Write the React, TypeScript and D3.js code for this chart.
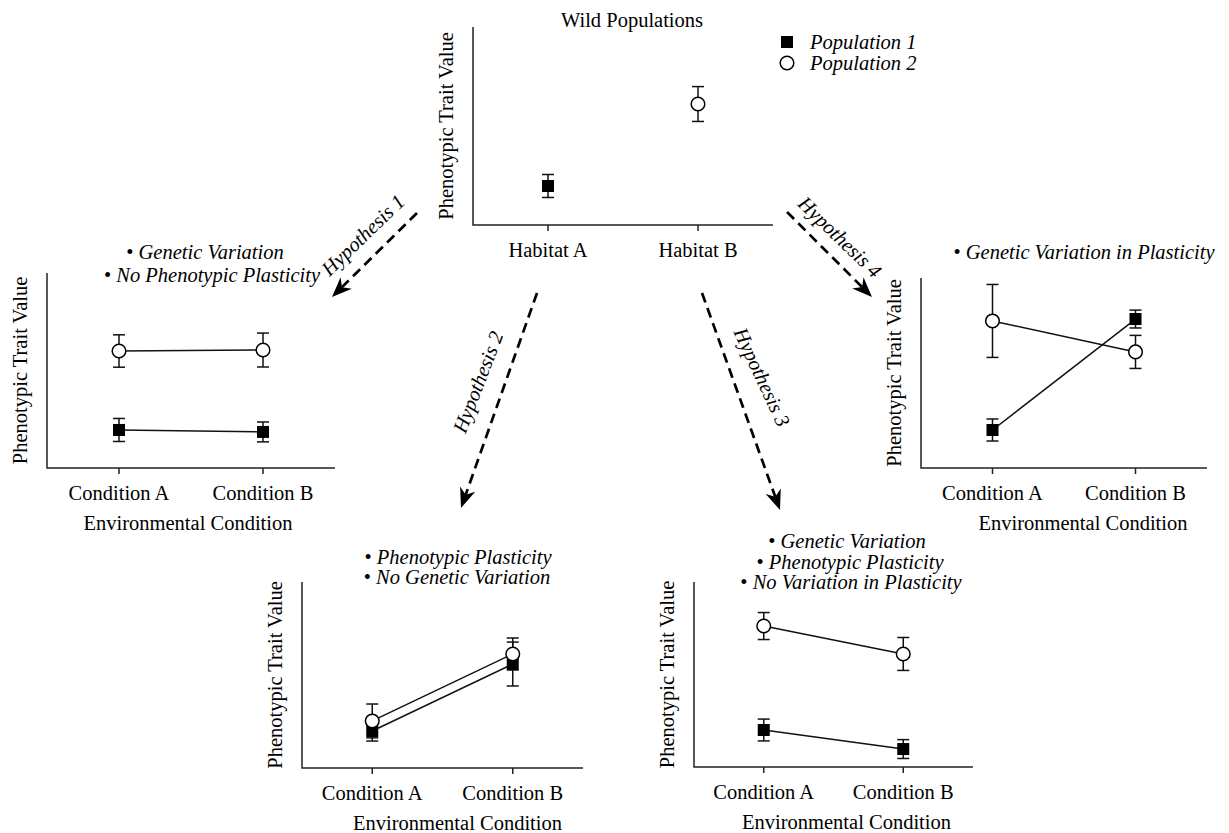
import React from "react";
import * as d3 from "d3";

const conditions = ["Condition A", "Condition B"];
const habitats = ["Habitat A", "Habitat B"];
const seriesNames = ["Population 1", "Population 2"];

// trait values on a 0-100 scale, err = half-width of the bar
const wildPop1 = [19.7, null];
const wildPop1Err = [5.8, 0];
const wildPop2 = [null, 61.1];
const wildPop2Err = [0, 8.8];

const h1Pop1 = [19.5, 18.5];
const h1Pop1Err = [5.9, 5.1];
const h1Pop2 = [60, 60.5];
const h1Pop2Err = [8.3, 8.7];

const h2Pop1 = [19.9, 55.9];
const h2Pop1Err = [5.4, 11.8];
const h2Pop2 = [25.3, 61.3];
const h2Pop2Err = [9.1, 8.6];

const h3Pop1 = [20, 9.7];
const h3Pop1Err = [5.9, 5.1];
const h3Pop2 = [76.2, 61.1];
const h3Pop2Err = [7.3, 8.9];

const h4Pop1 = [20, 78.4];
const h4Pop1Err = [5.8, 4.7];
const h4Pop2 = [77.4, 61.1];
const h4Pop2Err = [19.2, 8.7];

const FONT = "'Liberation Serif', 'Times New Roman', serif";
const FS = 20.5;

type Series = { values: (number | null)[]; err: number[]; filled: boolean };

type PanelProps = {
  x0: number;
  x1: number;
  yTop: number;
  yBottom: number;
  cats: string[];
  series: Series[];
  connect: boolean;
  xTitle?: string;
  xTitleDx?: number;
  titles?: { text: string; x: number; y: number }[];
};

const Panel = ({ x0, x1, yTop, yBottom, cats, series, connect, xTitle, xTitleDx = 0, titles = [] }: PanelProps) => {
  const x = d3.scalePoint<string>().domain(cats).range([x0, x1]).padding(0.5);
  const y = d3.scaleLinear().domain([0, 100]).range([yBottom, yTop]);
  const line = d3
    .line<number | null>()
    .defined((d) => d != null)
    .x((_, i) => x(cats[i]) as number)
    .y((d) => y(d as number));

  return (
    <g>
      {titles.map((t, i) => (
        <text key={i} x={t.x} y={t.y} textAnchor="middle" dominantBaseline="central" fontStyle="italic" fontSize={FS}>
          <tspan fontStyle="normal">• </tspan>
          {t.text}
        </text>
      ))}
      <path d={`M${x0},${yTop}V${yBottom}H${x1}`} fill="none" stroke="#222" strokeWidth={1.5} />
      {cats.map((c) => (
        <g key={c}>
          <line x1={x(c)} x2={x(c)} y1={yBottom} y2={yBottom + 6} stroke="#222" strokeWidth={1.5} />
          <text x={x(c)} y={yBottom + 25} textAnchor="middle" dominantBaseline="central" fontSize={FS}>
            {c}
          </text>
        </g>
      ))}
      <text
        transform={`translate(${x0 - 27},${(yTop + yBottom) / 2}) rotate(-90)`}
        textAnchor="middle"
        dominantBaseline="central"
        fontSize={FS}
      >
        Phenotypic Trait Value
      </text>
      {xTitle && (
        <text x={(x0 + x1) / 2 + xTitleDx} y={yBottom + 55} textAnchor="middle" dominantBaseline="central" fontSize={FS}>
          {xTitle}
        </text>
      )}
      {series.map((s, si) => (
        <g key={si}>
          {s.values.map((v, i) =>
            v == null ? null : (
              <g key={i} stroke="#111" strokeWidth={1.5}>
                <line x1={x(cats[i])} x2={x(cats[i])} y1={y(v - s.err[i])} y2={y(v + s.err[i])} />
                <line x1={(x(cats[i]) as number) - 6} x2={(x(cats[i]) as number) + 6} y1={y(v + s.err[i])} y2={y(v + s.err[i])} />
                <line x1={(x(cats[i]) as number) - 6} x2={(x(cats[i]) as number) + 6} y1={y(v - s.err[i])} y2={y(v - s.err[i])} />
              </g>
            )
          )}
        </g>
      ))}
      {series.map((s, si) => (
        <g key={si}>
          {connect && <path d={line(s.values) || ""} fill="none" stroke="#111" strokeWidth={1.5} />}
          {s.values.map((v, i) =>
            v == null ? null : s.filled ? (
              <rect key={i} x={(x(cats[i]) as number) - 6} y={y(v) - 6} width={12} height={12} fill="#000" />
            ) : (
              <circle key={i} cx={x(cats[i])} cy={y(v)} r={6.8} fill="#fff" stroke="#000" strokeWidth={1.5} />
            )
          )}
        </g>
      ))}
    </g>
  );
};

const arrows = [
  { label: "Hypothesis 1", from: [417, 213], to: [332, 297], lx: 363, ly: 235, rot: -44 },
  { label: "Hypothesis 2", from: [537, 293], to: [461, 508], lx: 478, ly: 382, rot: -69 },
  { label: "Hypothesis 3", from: [702, 293], to: [780, 510], lx: 762, ly: 377, rot: 65 },
  { label: "Hypothesis 4", from: [787, 212], to: [872, 297], lx: 840, ly: 237, rot: 44 },
];

const Arrow = ({ from, to }: { from: number[]; to: number[] }) => {
  const dx = to[0] - from[0];
  const dy = to[1] - from[1];
  const len = Math.hypot(dx, dy);
  const ux = dx / len;
  const uy = dy / len;
  const nx = -uy;
  const ny = ux;
  const L = 20;
  const W = 8;
  const notch = 14;
  const bx = to[0] - ux * L;
  const by = to[1] - uy * L;
  const head = [
    [to[0], to[1]],
    [bx + nx * W, by + ny * W],
    [to[0] - ux * notch, to[1] - uy * notch],
    [bx - nx * W, by - ny * W],
  ];
  return (
    <g>
      <line
        x1={from[0]}
        y1={from[1]}
        x2={to[0] - ux * notch}
        y2={to[1] - uy * notch}
        stroke="#000"
        strokeWidth={2.7}
        strokeDasharray="10 6"
      />
      <polygon points={head.map((p) => p.join(",")).join(" ")} fill="#000" />
    </g>
  );
};

export default function App() {
  return (
    <svg
      width={1229}
      height={833}
      style={{ position: "absolute", left: 0, top: 0, background: "#fff" }}
      fontFamily={FONT}
      fill="#000"
    >
      <rect width={1229} height={833} fill="#fff" />
      {/* wild populations */}
      <text x={632} y={20} textAnchor="middle" dominantBaseline="central" fontSize={FS}>
        Wild Populations
      </text>
      <Panel
        x0={473}
        x1={773}
        yTop={27}
        yBottom={225}
        cats={habitats}
        connect={false}
        series={[
          { values: wildPop1, err: wildPop1Err, filled: true },
          { values: wildPop2, err: wildPop2Err, filled: false },
        ]}
      />
      <rect x={781} y={36} width={12} height={12} fill="#000" />
      <circle cx={787} cy={63} r={6.8} fill="#fff" stroke="#000" strokeWidth={1.5} />
      {seriesNames.map((n, i) => (
        <text key={n} x={810} y={42 + i * 21} dominantBaseline="central" fontStyle="italic" fontSize={FS}>
          {n}
        </text>
      ))}

      {/* hypothesis 1 */}
      <Panel
        x0={47}
        x1={335}
        yTop={273}
        yBottom={468}
        cats={conditions}
        connect
        xTitle="Environmental Condition"
        xTitleDx={-3}
        titles={[
          { text: "Genetic Variation", x: 205, y: 252 },
          { text: "No Phenotypic Plasticity", x: 212, y: 275 },
        ]}
        series={[
          { values: h1Pop1, err: h1Pop1Err, filled: true },
          { values: h1Pop2, err: h1Pop2Err, filled: false },
        ]}
      />
      {/* hypothesis 2 */}
      <Panel
        x0={302}
        x1={583}
        yTop={582}
        yBottom={768}
        cats={conditions}
        connect
        xTitle="Environmental Condition"
        xTitleDx={15}
        titles={[
          { text: "Phenotypic Plasticity", x: 458, y: 557 },
          { text: "No Genetic Variation", x: 457, y: 577 },
        ]}
        series={[
          { values: h2Pop1, err: h2Pop1Err, filled: true },
          { values: h2Pop2, err: h2Pop2Err, filled: false },
        ]}
      />
      {/* hypothesis 3 */}
      <Panel
        x0={694}
        x1={973}
        yTop={582}
        yBottom={767}
        cats={conditions}
        connect
        xTitle="Environmental Condition"
        xTitleDx={13}
        titles={[
          { text: "Genetic Variation", x: 847, y: 541 },
          { text: "Phenotypic Plasticity", x: 850, y: 562 },
          { text: "No Variation in Plasticity", x: 851, y: 582 },
        ]}
        series={[
          { values: h3Pop1, err: h3Pop1Err, filled: true },
          { values: h3Pop2, err: h3Pop2Err, filled: false },
        ]}
      />
      {/* hypothesis 4 */}
      <Panel
        x0={921}
        x1={1207}
        yTop={278}
        yBottom={468}
        cats={conditions}
        connect
        xTitle="Environmental Condition"
        xTitleDx={19}
        titles={[{ text: "Genetic Variation in Plasticity", x: 1084, y: 252 }]}
        series={[
          { values: h4Pop1, err: h4Pop1Err, filled: true },
          { values: h4Pop2, err: h4Pop2Err, filled: false },
        ]}
      />

      {arrows.map((a) => (
        <g key={a.label}>
          <Arrow from={a.from} to={a.to} />
          <text
            transform={`translate(${a.lx},${a.ly}) rotate(${a.rot})`}
            textAnchor="middle"
            dominantBaseline="central"
            fontStyle="italic"
            fontSize={FS}
          >
            {a.label}
          </text>
        </g>
      ))}
    </svg>
  );
}
